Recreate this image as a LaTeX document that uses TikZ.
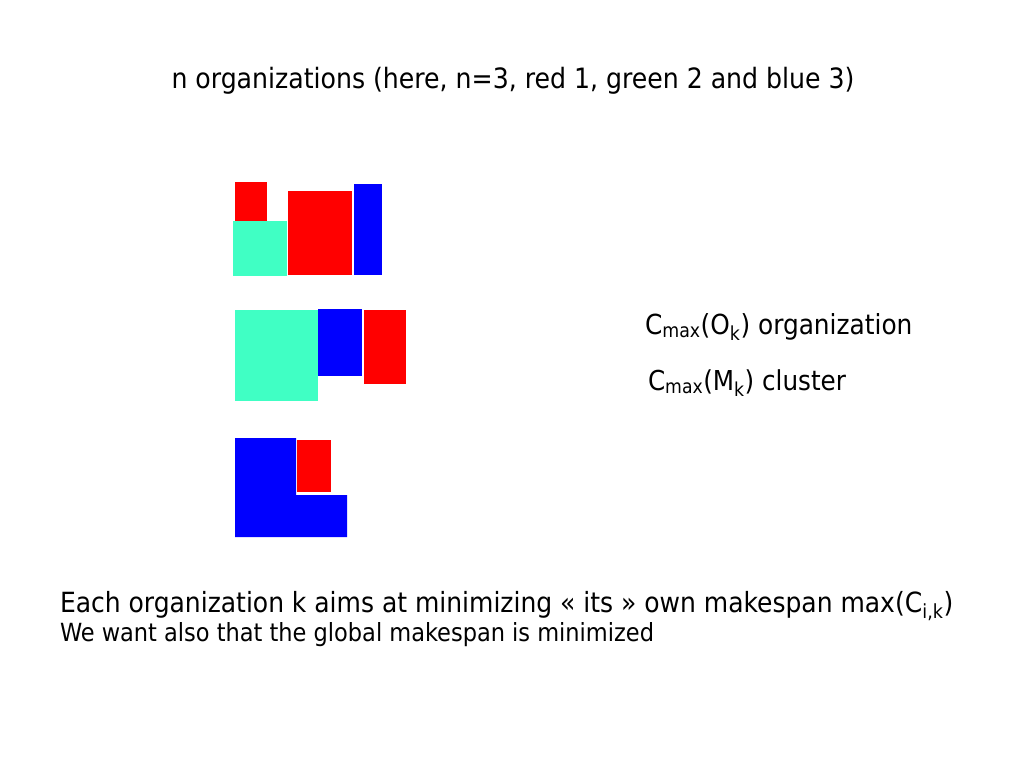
\documentclass[tikz,border=0pt]{standalone}
\usepackage{fontspec}
\setmainfont{DejaVu Sans Condensed}
\definecolor{orgred}{RGB}{255,0,0}
\definecolor{orgblue}{RGB}{0,0,255}
\definecolor{orggreen}{RGB}{64,255,196}
\begin{document}
\begin{tikzpicture}[x=1pt,y=-1pt,
  txt/.style={anchor=base west,inner sep=0pt,outer sep=0pt,text=black},
  jobr/.style={fill=orgred,draw=none},
  jobb/.style={fill=orgblue,draw=none},
  jobg/.style={fill=orggreen,draw=none}]
\useasboundingbox (0,0) rectangle (1024,768);
% title
\node[anchor=base,inner sep=0pt] (title) at (513,88) {\fontsize{28}{32}\selectfont n organizations (here, n=3, red 1, green 2 and blue 3)};
% organization 1
\fill[jobr] (235,182) rectangle (267,221);
\fill[jobg] (233,221) rectangle (287,276);
\fill[jobr] (288,191) rectangle (352,275);
\fill[jobb] (354,184) rectangle (382,275);
% organization 2
\fill[jobg] (235,310) rectangle (318,401);
\fill[jobb] (318,309) rectangle (362,376);
\fill[jobr] (364,310) rectangle (406,384);
% organization 3
\fill[jobb] (235,438) -- (296,438) -- (296,495) -- (347,495) -- (347,537) -- (235,537) -- cycle;
\fill[jobr] (297,440) rectangle (331,492);
% labels
\node[txt] (co) at (645,334) {\fontsize{27.6}{31}\selectfont C\textsubscript{max}(O\textsubscript{k}) organization};
\node[txt] (cm) at (648,390) {\fontsize{27.4}{31}\selectfont C\textsubscript{max}(M\textsubscript{k}) cluster};
\node[txt] (l1) at (60,612) {\fontsize{27.8}{31}\selectfont Each organization k aims at minimizing « its » own makespan max(C\textsubscript{i,k})};
\node[txt] (l2) at (60,641) {\fontsize{25}{29}\selectfont We want also that the global makespan is minimized};
\end{tikzpicture}
\end{document}
